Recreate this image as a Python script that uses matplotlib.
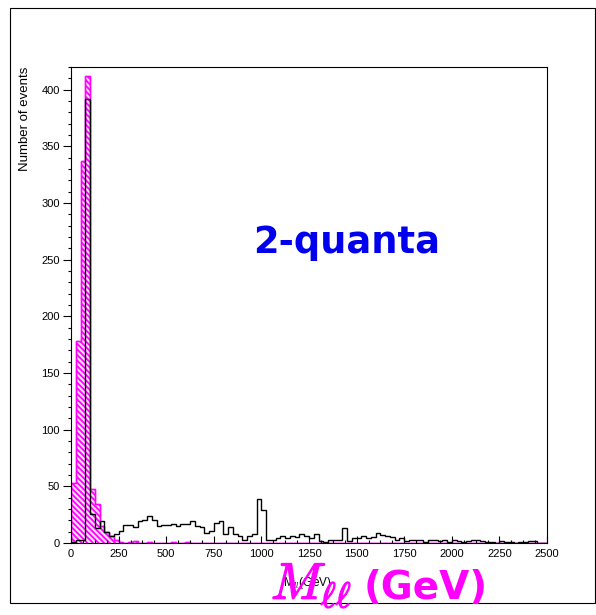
# M_ll distribution, 2-quanta
import numpy as np
import matplotlib.pyplot as plt
import matplotlib.patheffects as pe
from matplotlib.patches import Rectangle
from matplotlib.ticker import MultipleLocator

plt.rcParams['mathtext.fontset'] = 'cm'
plt.rcParams['hatch.linewidth'] = 1.3

# 25 GeV bins from 0 to 2500
edges = np.arange(0, 2501, 25)

# black (outline) histogram
black = [1, 3, 3, 392, 26, 13, 19, 10, 6, 8,
         11, 16, 16, 14, 19, 20, 24, 20, 15, 16,
         16, 17, 15, 17, 17, 19, 15, 14, 9, 11,
         18, 19, 8, 14, 8, 6, 3, 6, 8, 39,
         29, 3, 3, 4, 6, 4, 6, 5, 8, 6,
         4, 8, 2, 1, 3, 3, 3, 13, 2, 4,
         4, 6, 4, 5, 9, 7, 6, 5, 3, 4,
         2, 3, 3, 3, 1, 3, 3, 2, 3, 1,
         3, 2, 1, 2, 3, 3, 2, 1, 1, 0,
         2, 1, 1, 0, 1, 1, 2, 2, 0, 0]

# magenta (hatched) histogram
magenta = [53, 178, 337, 412, 48, 34, 15, 10, 6, 3,
           1, 0, 1, 2, 0, 0, 1, 0, 0, 0,
           0, 1, 0, 0, 1, 0] + [0] * 74

fig = plt.figure(figsize=(5.96, 6.15), dpi=100)
ax = fig.add_axes([71 / 596, 1 - 543 / 615, 476 / 596, 476 / 615])

ax.stairs(magenta, edges, fill=True, facecolor='#ffe0ff', edgecolor='#ff00ff',
          hatch='\\\\\\\\\\\\', linewidth=1.0)
ax.stairs(magenta, edges, color='#ff00ff', linewidth=1.0)
ax.stairs(black, edges, color='black', linewidth=1.0)

ax.set_xlim(0, 2500)
ax.set_ylim(0, 420)

ax.xaxis.set_major_locator(MultipleLocator(250))
ax.xaxis.set_minor_locator(MultipleLocator(62.5))
ax.yaxis.set_major_locator(MultipleLocator(50))
ax.yaxis.set_minor_locator(MultipleLocator(10))
ax.tick_params(axis='x', which='major', direction='in', length=5, width=0.8, labelsize=8, pad=4)
ax.tick_params(axis='x', which='minor', direction='in', length=2.5, width=0.8)
ax.tick_params(axis='y', which='major', direction='out', length=6, width=0.8, labelsize=8, pad=2)
ax.tick_params(axis='y', which='minor', direction='out', length=2.5, width=0.8)
for lab in ax.get_xticklabels() + ax.get_yticklabels():
    lab.set_family('Liberation Sans')
for s in ax.spines.values():
    s.set_linewidth(0.8)

fig.text(25 / 596, 1 - 67 / 615, 'Number of events', rotation=90, ha='center', va='top',
         fontsize=9.5, family='Liberation Sans')
fig.text(307 / 596, 1 - 583 / 615, r'M$_{ll}$(GeV)', ha='center', va='center',
         fontsize=8.5, family='Liberation Sans')

fig.text(347 / 596, 1 - 253 / 615, '2-quanta', ha='center', va='baseline',
         fontsize=26.5, fontweight='bold', color='#0000ee')

fig.text(352 / 596, 1 - 599 / 615, r'$M_{\ell\ell}$', ha='right', va='baseline',
         fontsize=37, color='#ff00ff',
         path_effects=[pe.withStroke(linewidth=1.0, foreground='#ff00ff')])
fig.text(364 / 596, 1 - 599 / 615, '(GeV)', ha='left', va='baseline',
         fontsize=28, fontweight='bold', color='#ff00ff')

# canvas border
fig.patches.append(Rectangle((10 / 596, 1 - 603 / 615), 585 / 596, 595 / 615,
                             transform=fig.transFigure, fill=False,
                             edgecolor='black', linewidth=0.8))

fig.savefig('out.png', dpi=100)
